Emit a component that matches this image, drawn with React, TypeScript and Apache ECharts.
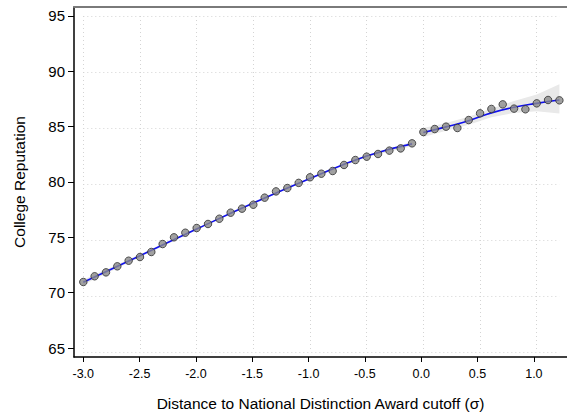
import { useEffect, useRef } from 'react';
import * as echarts from 'echarts';

const leftX = [-3.0, -2.9, -2.8, -2.7, -2.6, -2.5, -2.4, -2.3, -2.2, -2.1, -2.0, -1.9, -1.8, -1.7, -1.6, -1.5, -1.4, -1.3, -1.2, -1.1, -1.0, -0.9, -0.8, -0.7, -0.6, -0.5, -0.4, -0.3, -0.2, -0.1];
const leftY = [71.25, 71.76, 72.11, 72.65, 73.15, 73.48, 73.93, 74.64, 75.24, 75.65, 76.07, 76.43, 76.9, 77.44, 77.8, 78.15, 78.78, 79.34, 79.64, 80.1, 80.6, 80.92, 81.16, 81.7, 82.14, 82.44, 82.68, 82.98, 83.18, 83.63];
const rightX = [0.0, 0.1, 0.2, 0.3, 0.4, 0.5, 0.6, 0.7, 0.8, 0.9, 1.0, 1.1, 1.2];
const rightY = [84.64, 84.91, 85.12, 85.0, 85.71, 86.31, 86.7, 87.11, 86.73, 86.67, 87.2, 87.5, 87.47];

// fitted lines and confidence bands
const leftFitX = [-3.0, -2.5, -2.0, -1.5, -1.0, -0.5, -0.1];
const leftFit = [71.22, 73.6, 75.98, 78.3, 80.5, 82.5, 83.58];
const leftLo = [71.0, 73.47, 75.9, 78.22, 80.42, 82.4, 83.38];
const leftHi = [71.44, 73.73, 76.06, 78.38, 80.58, 82.6, 83.78];
const rightFitX = [0.0, 0.2, 0.4, 0.6, 0.8, 1.0, 1.2];
const rightFit = [84.6, 85.1, 85.65, 86.35, 86.85, 87.2, 87.5];
const rightLo = [84.2, 84.75, 85.3, 85.95, 86.35, 86.5, 86.3];
const rightHi = [85.0, 85.45, 86.0, 86.75, 87.4, 88.0, 88.9];

const xTicks = [-3.0, -2.5, -2.0, -1.5, -1.0, -0.5, 0.0, 0.5, 1.0];
const yTicks = [65, 70, 75, 80, 85, 90, 95];

const FONT = "'Liberation Sans', Arial, sans-serif";

function zip(xs: number[], ys: number[]) {
  return xs.map((x, i) => [x, ys[i]]);
}

// band as one polygon: upper edge left to right, lower edge back
function band(xs: number[], lo: number[], hi: number[]) {
  const pts = [...zip(xs, hi), ...zip(xs, lo).reverse()];
  return {
    type: 'custom',
    xAxisIndex: 0,
    yAxisIndex: 0,
    data: pts,
    silent: true,
    z: 1,
    renderItem: (params: any, api: any) => {
      if (params.dataIndex !== 0) return null;
      return {
        type: 'polygon',
        shape: { points: pts.map((p) => api.coord(p)) },
        style: { fill: '#e9e9e9', stroke: 'none' },
      };
    },
  };
}

function fit(xs: number[], ys: number[]) {
  return {
    type: 'line',
    xAxisIndex: 0,
    yAxisIndex: 0,
    data: zip(xs, ys),
    smooth: true,
    symbol: 'none',
    lineStyle: { color: '#1010ee', width: 1.6 },
    z: 3,
  };
}

function dots(xs: number[], ys: number[]) {
  return {
    type: 'scatter',
    xAxisIndex: 0,
    yAxisIndex: 0,
    data: zip(xs, ys),
    symbol: 'circle',
    symbolSize: 7.5,
    itemStyle: { color: '#8a8a8a', borderColor: '#2e2e2e', borderWidth: 1 },
    z: 4,
  };
}

const gridLine = { show: true, lineStyle: { color: '#d4d4d4', type: [1, 3], width: 1 } };

const option = {
  animation: false,
  backgroundColor: '#ffffff',
  textStyle: { fontFamily: FONT },
  grid: [
    { left: 83.3, right: 7.6, top: 16, bottom: 64 },
    { left: 74, right: -3, top: 7, bottom: 55.5 },
  ],
  xAxis: [
    {
      type: 'value',
      gridIndex: 0,
      min: -3,
      max: 1.2,
      axisLine: { show: false },
      axisTick: { show: false, customValues: xTicks },
      axisLabel: { show: false },
      splitLine: gridLine,
    },
    {
      type: 'value',
      gridIndex: 1,
      min: -3.082,
      max: 1.294,
      axisLine: { show: true, onZero: false, lineStyle: { color: '#000', width: 1.5 } },
      axisTick: { show: true, length: 5, customValues: xTicks, lineStyle: { color: '#000' } },
      axisLabel: {
        customValues: xTicks,
        formatter: (v: number) => v.toFixed(1),
        color: '#000',
        fontSize: 12.5,
        margin: 10,
        fontFamily: FONT,
      },
      splitLine: { show: false },
      name: 'Distance to National Distinction Award cutoff (σ)',
      nameLocation: 'middle',
      nameGap: 38,
      nameTextStyle: { color: '#000', fontSize: 15.5, fontFamily: FONT },
    },
    {
      type: 'value',
      gridIndex: 1,
      position: 'top',
      min: -3.082,
      max: 1.294,
      axisLine: { show: true, onZero: false, lineStyle: { color: '#7a7a7a', width: 2 } },
      axisTick: { show: false },
      axisLabel: { show: false },
      splitLine: { show: false },
    },
  ],
  yAxis: [
    {
      type: 'value',
      gridIndex: 0,
      min: 65,
      max: 95,
      interval: 5,
      axisLine: { show: false },
      axisTick: { show: false },
      axisLabel: { show: false },
      splitLine: gridLine,
    },
    {
      type: 'value',
      gridIndex: 1,
      min: 64.196,
      max: 95.8,
      axisLine: { show: true, onZero: false, lineStyle: { color: '#000', width: 1.5 } },
      axisTick: { show: true, length: 6, customValues: yTicks, lineStyle: { color: '#000' } },
      axisLabel: {
        customValues: yTicks,
        color: '#000',
        fontSize: 15,
        margin: 9,
        fontFamily: FONT,
      },
      splitLine: { show: false },
      name: 'College Reputation',
      nameLocation: 'middle',
      nameGap: 47,
      nameRotate: 90,
      nameTextStyle: { color: '#000', fontSize: 15.5, fontFamily: FONT },
    },
  ],
  series: [
    band(leftFitX, leftLo, leftHi),
    band(rightFitX, rightLo, rightHi),
    fit(leftFitX, leftFit),
    fit(rightFitX, rightFit),
    dots(leftX, leftY),
    dots(rightX, rightY),
  ],
};

function Chart() {
  const ref = useRef<HTMLDivElement>(null);

  useEffect(() => {
    if (!ref.current) return;
    const chart = echarts.init(ref.current, null, { renderer: 'svg' });
    chart.setOption(option as any);
    return () => chart.dispose();
  }, []);

  return <div ref={ref} style={{ width: 567, height: 416 }} />;
}

export default function App() {
  return (
    <div style={{ position: 'fixed', left: 0, top: 0, width: 567, height: 416 }}>
      <Chart />
    </div>
  );
}
